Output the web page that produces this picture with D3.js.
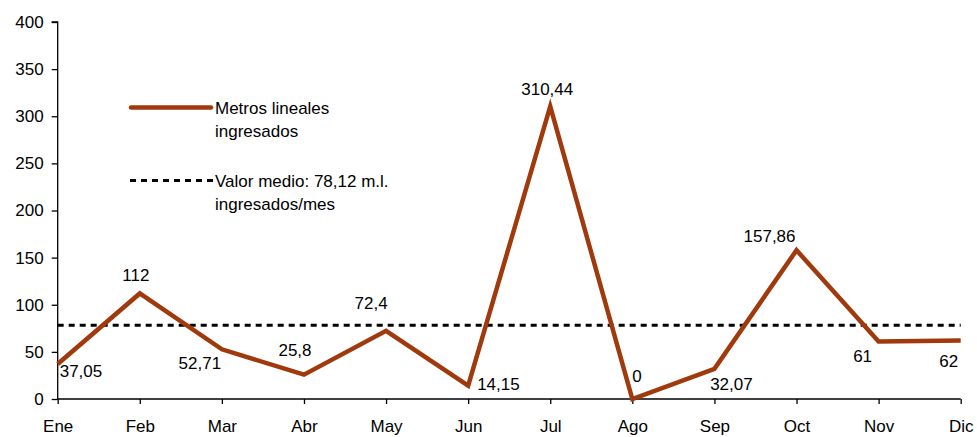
<!DOCTYPE html>
<html>
<head>
<meta charset="utf-8">
<script src="https://cdn.jsdelivr.net/npm/d3@7"></script>
<style>
  html, body { margin: 0; padding: 0; background: #fff; }
  svg { display: block; font-family: "Liberation Sans", Arial, sans-serif; }
</style>
</head>
<body>
<svg id="chart" width="977" height="437"></svg>
<script>
// ---- data ----
const months = ["Ene","Feb","Mar","Abr","May","Jun","Jul","Ago","Sep","Oct","Nov","Dic"];
const metros = [37.05, 112, 52.71, 25.8, 72.4, 14.15, 310.44, 0, 32.07, 157.86, 61, 62];
const valueLabels = ["37,05","112","52,71","25,8","72,4","14,15","310,44","0","32,07","157,86","61","62"];
const meanValue = 78.12;
const yTicks = [0, 50, 100, 150, 200, 250, 300, 350, 400];
const legendLabels = [["Metros lineales", "ingresados"], ["Valor medio: 78,12 m.l.", "ingresados/mes"]];

// ---- label placement (styling) ----
const labelPlace = [
  {a:"start",  dx:2,   dy:13},
  {a:"middle", dx:-4,  dy:-12},
  {a:"middle", dx:-22, dy:20},
  {a:"middle", dx:-9,  dy:-19},
  {a:"middle", dx:-15, dy:-22},
  {a:"start",  dx:9,   dy:4},
  {a:"middle", dx:-3,  dy:-11},
  {a:"start",  dx:0,   dy:-17},
  {a:"middle", dx:17,  dy:21},
  {a:"middle", dx:-27, dy:-8},
  {a:"middle", dx:-16, dy:20},
  {a:"middle", dx:-12, dy:26}
];

const svg = d3.select("#chart");
const lineColor = "#A0390C";
const fontSize = 17;

const x = d3.scalePoint().domain(months).range([57.7, 960.7]).padding(0);
const y = d3.scaleLinear().domain([0, 400]).range([399, 22]);

// y axis
const yAxis = svg.append("g")
  .attr("transform", `translate(${x("Ene")},0)`)
  .call(d3.axisLeft(y).tickValues(yTicks).tickSize(6).tickPadding(8).tickFormat(d3.format("d")));
yAxis.select(".domain").attr("d", `M-6,${y(400)}H0V${y(0)}`).attr("stroke", "#000").attr("stroke-width", 1.3);
yAxis.selectAll(".tick line").attr("stroke", "#000").attr("stroke-width", 1.3);
yAxis.selectAll(".tick text").attr("font-size", fontSize).attr("fill", "#000").attr("font-family", "Liberation Sans, Arial, sans-serif");

// x axis
const xAxis = svg.append("g")
  .attr("transform", `translate(0,${y(0)})`)
  .call(d3.axisBottom(x).tickSize(5).tickPadding(17));
xAxis.select(".domain").attr("d", `M${x("Ene")},0H${x("Dic")}`).attr("stroke", "#000").attr("stroke-width", 1.3);
xAxis.selectAll(".tick line").attr("stroke", "#000").attr("stroke-width", 1.3);
xAxis.selectAll(".tick text").attr("font-size", fontSize).attr("fill", "#000").attr("dy", 0).attr("font-family", "Liberation Sans, Arial, sans-serif")
  .attr("y", 33);

// mean line
svg.append("line")
  .attr("x1", x("Ene")).attr("x2", x("Dic"))
  .attr("y1", y(meanValue)).attr("y2", y(meanValue))
  .attr("stroke", "#000").attr("stroke-width", 3).attr("stroke-dasharray", "6,5");

// data line
const line = d3.line().x((d, i) => x(months[i])).y(d => y(d));
svg.append("path")
  .datum(metros)
  .attr("d", line)
  .attr("fill", "none")
  .attr("stroke", lineColor)
  .attr("stroke-width", 4.5)
  .attr("stroke-linejoin", "miter");

// value labels
svg.append("g").selectAll("text")
  .data(metros)
  .join("text")
  .attr("x", (d, i) => x(months[i]) + labelPlace[i].dx)
  .attr("y", (d, i) => y(d) + labelPlace[i].dy)
  .attr("text-anchor", (d, i) => labelPlace[i].a)
  .attr("font-size", fontSize)
  .attr("fill", "#000")
  .text((d, i) => valueLabels[i]);

// legend
const lg = svg.append("g");
lg.append("line").attr("x1", 131).attr("x2", 211).attr("y1", 107.5).attr("y2", 107.5)
  .attr("stroke", lineColor).attr("stroke-width", 4.5).attr("stroke-linecap", "round");
lg.append("line").attr("x1", 130).attr("x2", 213).attr("y1", 180.5).attr("y2", 180.5)
  .attr("stroke", "#000").attr("stroke-width", 3).attr("stroke-dasharray", "6,5");
const legendY = [113.5, 187];
legendLabels.forEach((lines, k) => {
  const t = lg.append("text").attr("x", 215).attr("y", legendY[k]).attr("font-size", fontSize).attr("fill", "#000");
  lines.forEach((s, j) => {
    t.append("tspan").attr("x", 215).attr("dy", j === 0 ? 0 : 23).text(s);
  });
});
</script>
</body>
</html>
